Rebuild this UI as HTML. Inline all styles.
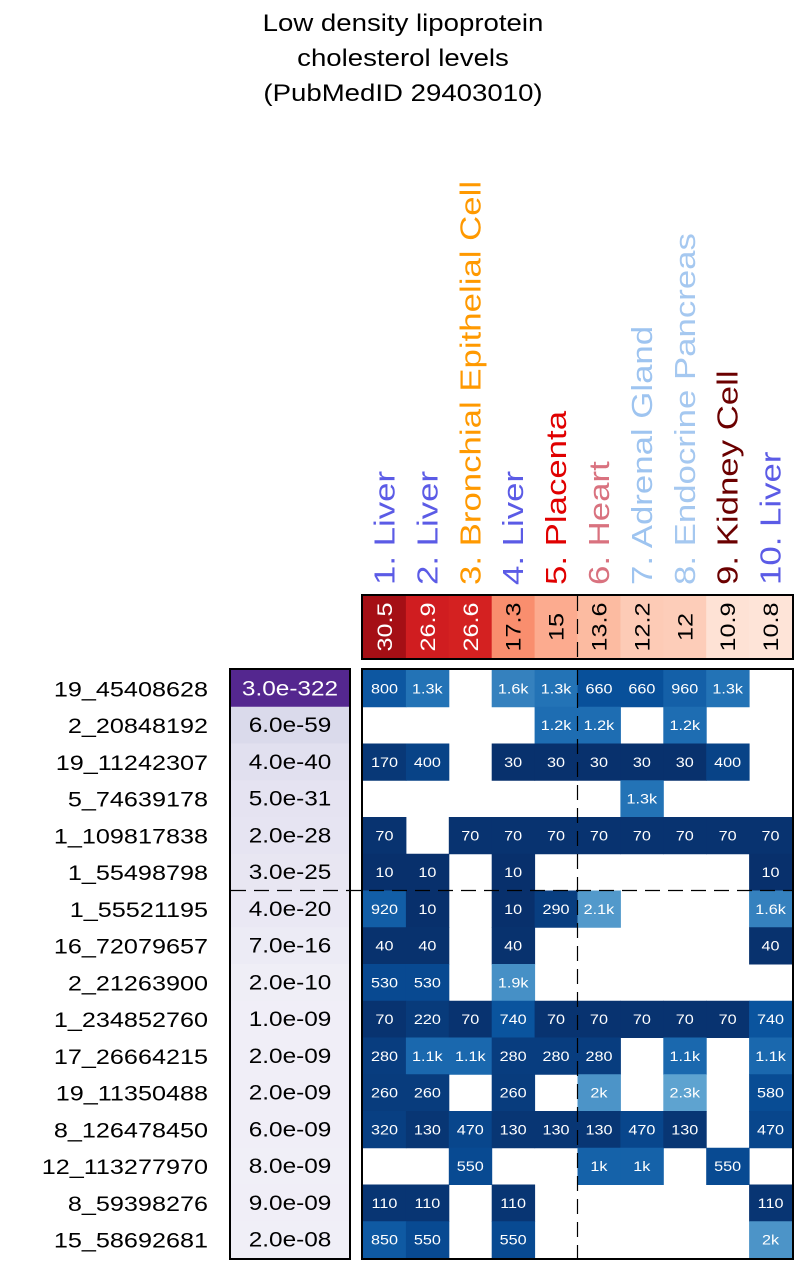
<!DOCTYPE html>
<html><head><meta charset="utf-8"><style>
html,body{margin:0;padding:0;background:#fff;}
svg{display:block;font-family:"Liberation Sans",Arial,sans-serif;}
</style></head><body>
<svg id="chart" width="806" height="1264" viewBox="0 0 806 1264">
<g font-size="24" text-anchor="middle" fill="#000">
<text transform="translate(403,31) scale(1.15,1)">Low density lipoprotein</text>
<text transform="translate(403,66) scale(1.15,1)">cholesterol levels</text>
<text transform="translate(403,101) scale(1.15,1)">(PubMedID 29403010)</text>
</g>
<g id="colLabels"></g>
<g id="strip"></g>
<g id="pvals"></g>
<g id="rowLabels"></g>
<g id="grid"></g>
</svg>
<script>
const columns=["1. Liver","2. Liver","3. Bronchial Epithelial Cell","4. Liver","5. Placenta","6. Heart","7. Adrenal Gland","8. Endocrine Pancreas","9. Kidney Cell","10. Liver"];
const columnColors=["#5b5be6","#5b5be6","#ff9900","#5b5be6","#e00000","#d9727f","#9ec4f0","#a5c8f0","#6b0000","#5b5be6"];
const enrichment=[30.5,26.9,26.6,17.3,15,13.6,12.2,12,10.9,10.8];
const enrichmentLabels=["30.5","26.9","26.6","17.3","15","13.6","12.2","12","10.9","10.8"];
const snps=["19_45408628","2_20848192","19_11242307","5_74639178","1_109817838","1_55498798","1_55521195","16_72079657","2_21263900","1_234852760","17_26664215","19_11350488","8_126478450","12_113277970","8_59398276","15_58692681"];
const pvalueLabels=["3.0e-322","6.0e-59","4.0e-40","5.0e-31","2.0e-28","3.0e-25","4.0e-20","7.0e-16","2.0e-10","1.0e-09","2.0e-09","2.0e-09","6.0e-09","8.0e-09","9.0e-09","2.0e-08"];
const pvalueLog=[322,59,40,31,28,25,20,16,10,9,9,9,9,8,9,8];
const cells=[
[800,1300,0,1600,1300,660,660,960,1300,0],
[0,0,0,0,1200,1200,0,1200,0,0],
[170,400,0,30,30,30,30,30,400,0],
[0,0,0,0,0,0,1300,0,0,0],
[70,0,70,70,70,70,70,70,70,70],
[10,10,0,10,0,0,0,0,0,10],
[920,10,0,10,290,2100,0,0,0,1600],
[40,40,0,40,0,0,0,0,0,40],
[530,530,0,1900,0,0,0,0,0,0],
[70,220,70,740,70,70,70,70,70,740],
[280,1100,1100,280,280,280,0,1100,0,1100],
[260,260,0,260,0,2000,0,2300,0,580],
[320,130,470,130,130,130,470,130,0,470],
[0,0,550,0,0,1000,1000,0,550,0],
[110,110,0,110,0,0,0,0,0,110],
[850,550,0,550,0,0,0,0,0,2000]];

const NS="http://www.w3.org/2000/svg";
const X0=363,CW=42.9,Y0=670,RH=36.75,SY=596,SH=62,PX=231,PW=118;
function el(tag,attrs,parent){const e=document.createElementNS(NS,tag);for(const k in attrs)e.setAttribute(k,attrs[k]);parent.appendChild(e);return e;}
function hex(c){return [1,3,5].map(i=>parseInt(c.substr(i,2),16));}
function lerpStops(stops,t){if(t<=stops[0][0])return stops[0][1];for(let i=1;i<stops.length;i++){if(t<=stops[i][0]){const a=stops[i-1],b=stops[i];const f=(t-a[0])/(b[0]-a[0]);const ca=hex(a[1]),cb=hex(b[1]);return "rgb("+ca.map((v,j)=>Math.round(v+(cb[j]-v)*f)).join(",")+")";}}return stops[stops.length-1][1];}
const xPos=i=>X0+i*CW;
const yPos=r=>Y0+r*RH;
function fmt(v){if(v>=1000){const k=v/1000;return (Math.round(k*10)/10).toString()+"k";}return String(v);}
const blue=v=>lerpStops([[0,"#08306b"],[0.3,"#08519c"],[0.55,"#2171b5"],[1.1,"#6baed6"]],v/2300);
const red=v=>lerpStops([[10.8,"#fee4d8"],[12,"#fdcdb9"],[13.6,"#fcbba1"],[15,"#fcab8f"],[17.3,"#f98e6e"],[26.6,"#d42121"],[27,"#cf1c1f"],[30.5,"#a50f15"]],v);
const purple=l=>l>100?"#54278f":lerpStops([[8,"#f0eff7"],[30,"#e5e3f1"],[59,"#dadaeb"]],l);

// column labels
const cl=document.getElementById('colLabels');
columns.forEach((c,i)=>{const cx=xPos(i)+CW/2+10;
 const t=el('text',{x:0,y:0,transform:`translate(${cx},585) rotate(-90) scale(1.2,1)`,'font-size':29,fill:columnColors[i]},cl);
 
 
 t.textContent=c;});
// strip
const st=document.getElementById('strip');
enrichment.forEach((v,i)=>{const r=el('rect',{x:xPos(i),y:SY,width:CW+0.5,height:SH,fill:red(v)},st);
 
 
 const t=el('text',{transform:`translate(${xPos(i)+CW/2+7.5},${SY+SH/2}) rotate(-90) scale(1.2,1)`,'font-size':21,'text-anchor':'middle',fill:v>20?"#fff":"#000"},st);
 
 
 t.textContent=enrichmentLabels[i];});
el('line',{x1:577.5,y1:SY,x2:577.5,y2:SY+SH,stroke:"#000","stroke-width":1.2,"stroke-dasharray":"15,8"},st);
el('rect',{x:X0-1,y:SY-1,width:CW*10+2,height:SH+2,fill:"none",stroke:"#000","stroke-width":2},st);
// pvals and row labels
const pv=document.getElementById('pvals'),rl=document.getElementById('rowLabels');
snps.forEach((s,r)=>{const y=yPos(r);
 const rc=el('rect',{x:PX,y:y,width:PW,height:RH+0.5,fill:purple(pvalueLog[r])},pv);
 
 
 const t=el('text',{transform:`translate(${PX+PW/2},${y+RH/2+7}) scale(1.16,1)`,'font-size':21,'text-anchor':'middle',fill:pvalueLog[r]>100?"#fff":"#000"},pv);
 
 
 t.textContent=pvalueLabels[r];
 const l=el('text',{transform:`translate(208,${y+RH/2+8}) scale(1.2,1)`,'font-size':21,'text-anchor':'end',fill:"#000"},rl);
 
 
 l.textContent=s;});
el('rect',{x:PX-1,y:Y0-1,width:PW+2,height:RH*16+2,fill:"none",stroke:"#000","stroke-width":2},pv);
// grid
const g=document.getElementById('grid');
cells.forEach((row,r)=>row.forEach((v,i)=>{if(!v)return;
 const rc=el('rect',{x:xPos(i),y:yPos(r),width:CW+0.5,height:RH+0.5,fill:blue(v)},g);
 
 
 const t=el('text',{transform:`translate(${xPos(i)+CW/2},${yPos(r)+RH/2+5}) scale(1.2,1)`,'font-size':13.5,'text-anchor':'middle',fill:"#fff"},g);
 
 
 t.textContent=fmt(v);}));
el('line',{x1:577.5,y1:Y0,x2:577.5,y2:Y0+RH*16,stroke:"#000","stroke-width":1.2,"stroke-dasharray":"15,8"},g);
el('line',{x1:PX,y1:yPos(6),x2:X0+CW*10,y2:yPos(6),stroke:"#000","stroke-width":1.2,"stroke-dasharray":"15,8"},g);
el('rect',{x:X0-1,y:Y0-1,width:CW*10+2,height:RH*16+2,fill:"none",stroke:"#000","stroke-width":2},g);
</script>
</body></html>
